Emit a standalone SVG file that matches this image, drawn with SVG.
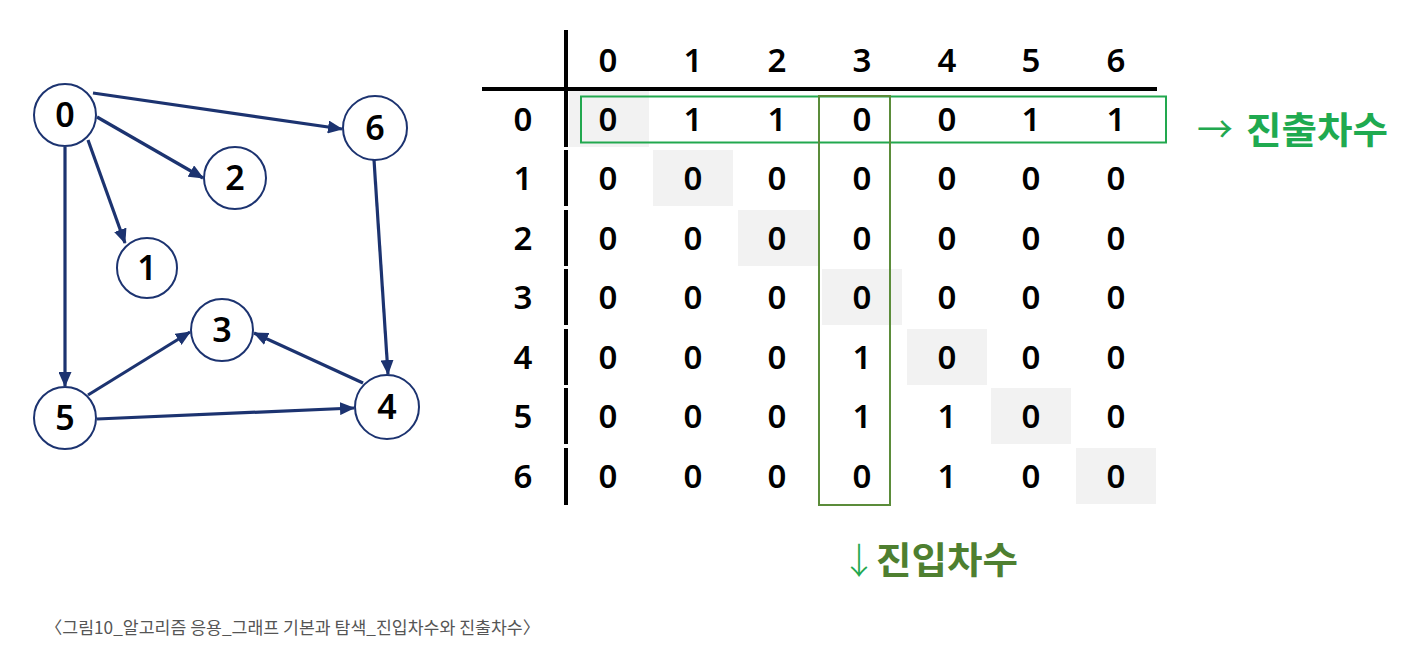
<svg xmlns="http://www.w3.org/2000/svg" width="1414" height="652" viewBox="0 0 1414 652">
<style>
.edge{stroke:#1c3370;stroke-width:3.2;fill:none;marker-end:url(#ah)}
.node circle{fill:#fff;stroke:#1c3370;stroke-width:2}
.nt{font-family:"Noto Sans","DejaVu Sans",sans-serif;font-size:34px;font-weight:600;fill:#000;text-anchor:middle}
.tt{font-family:"Noto Sans","DejaVu Sans",sans-serif;font-size:33px;font-weight:600;fill:#000;text-anchor:middle}
.gray{fill:#f2f2f2}
.bar{fill:#000}
.kr{font-family:"Noto Sans CJK KR",sans-serif;font-weight:700}
</style>
<defs>
<marker id="ah" markerUnits="userSpaceOnUse" markerWidth="15" markerHeight="13" refX="14" refY="6.5" orient="auto">
<path d="M0,0 L15,6.5 L0,13 z" fill="#1c3370"/>
</marker>
</defs>
<rect width="1414" height="652" fill="#fff"/>

<g id="connectors">
<line class="edge" x1="93" y1="93" x2="342" y2="129"/>
<line class="edge" x1="97" y1="117" x2="203" y2="178"/>
<line class="edge" x1="88" y1="140" x2="125" y2="243"/>
<line class="edge" x1="65" y1="147" x2="65" y2="386"/>
<line class="edge" x1="374" y1="160" x2="388" y2="374"/>
<line class="edge" x1="88" y1="395" x2="190" y2="332"/>
<line class="edge" x1="363" y1="383" x2="254" y2="333"/>
<line class="edge" x1="97" y1="419" x2="354" y2="408"/>
</g>

<g id="node0" class="node"><circle cx="65" cy="115" r="31"/><text class="nt" x="65" y="127">0</text></g>
<g id="node6" class="node"><circle cx="375" cy="128" r="32"/><text class="nt" x="375" y="140">6</text></g>
<g id="node2" class="node"><circle cx="235" cy="178" r="31"/><text class="nt" x="235" y="190">2</text></g>
<g id="node1" class="node"><circle cx="147" cy="268" r="30"/><text class="nt" x="147" y="280">1</text></g>
<g id="node3" class="node"><circle cx="222" cy="330" r="31"/><text class="nt" x="222" y="342">3</text></g>
<g id="node5" class="node"><circle cx="65" cy="418" r="31"/><text class="nt" x="65" y="430">5</text></g>
<g id="node4" class="node"><circle cx="387" cy="407" r="32"/><text class="nt" x="387" y="419">4</text></g>

<g id="matrix">
<rect class="gray" x="569" y="91" width="80" height="56"/>
<rect class="gray" x="653" y="150" width="80" height="56"/>
<rect class="gray" x="738" y="210" width="80" height="56"/>
<rect class="gray" x="822" y="269" width="80" height="56"/>
<rect class="gray" x="907" y="329" width="80" height="56"/>
<rect class="gray" x="991" y="388" width="80" height="56"/>
<rect class="gray" x="1076" y="448" width="80" height="56"/>

<rect class="bar" x="482" y="87" width="675" height="4"/>
<rect class="bar" x="564" y="30" width="4" height="117"/>
<rect class="bar" x="564" y="150" width="4" height="56"/>
<rect class="bar" x="564" y="210" width="4" height="56"/>
<rect class="bar" x="564" y="269" width="4" height="56"/>
<rect class="bar" x="564" y="329" width="4" height="56"/>
<rect class="bar" x="564" y="388" width="4" height="56"/>
<rect class="bar" x="564" y="448" width="4" height="57"/>

<g class="tt">
<text x="608" y="72">0</text><text x="693" y="72">1</text><text x="777" y="72">2</text><text x="862" y="72">3</text><text x="947" y="72">4</text><text x="1031" y="72">5</text><text x="1116" y="72">6</text>
<text x="523" y="131">0</text><text x="523" y="190">1</text><text x="523" y="250">2</text><text x="523" y="309">3</text><text x="523" y="369">4</text><text x="523" y="428">5</text><text x="523" y="488">6</text>
</g>
<g class="tt">
<text x="608" y="131">0</text><text x="693" y="131">1</text><text x="777" y="131">1</text><text x="862" y="131">0</text><text x="947" y="131">0</text><text x="1031" y="131">1</text><text x="1116" y="131">1</text>
<text x="608" y="190">0</text><text x="693" y="190">0</text><text x="777" y="190">0</text><text x="862" y="190">0</text><text x="947" y="190">0</text><text x="1031" y="190">0</text><text x="1116" y="190">0</text>
<text x="608" y="250">0</text><text x="693" y="250">0</text><text x="777" y="250">0</text><text x="862" y="250">0</text><text x="947" y="250">0</text><text x="1031" y="250">0</text><text x="1116" y="250">0</text>
<text x="608" y="309">0</text><text x="693" y="309">0</text><text x="777" y="309">0</text><text x="862" y="309">0</text><text x="947" y="309">0</text><text x="1031" y="309">0</text><text x="1116" y="309">0</text>
<text x="608" y="369">0</text><text x="693" y="369">0</text><text x="777" y="369">0</text><text x="862" y="369">1</text><text x="947" y="369">0</text><text x="1031" y="369">0</text><text x="1116" y="369">0</text>
<text x="608" y="428">0</text><text x="693" y="428">0</text><text x="777" y="428">0</text><text x="862" y="428">1</text><text x="947" y="428">1</text><text x="1031" y="428">0</text><text x="1116" y="428">0</text>
<text x="608" y="488">0</text><text x="693" y="488">0</text><text x="777" y="488">0</text><text x="862" y="488">0</text><text x="947" y="488">1</text><text x="1031" y="488">0</text><text x="1116" y="488">0</text>
</g>

<rect x="581" y="96.5" width="585" height="46" fill="none" stroke="#22a84f" stroke-width="2"/>
<rect x="819" y="96" width="71" height="409" fill="none" stroke="#5b8c3a" stroke-width="2"/>
</g>

<g id="label-out">
<text x="1197" y="143" font-family="Noto Sans CJK KR, sans-serif" font-size="36" fill="#22a84f">→</text>
<text class="kr" x="1246" y="144" font-size="37" fill="#1faa50" textLength="142" lengthAdjust="spacingAndGlyphs">진출차수</text>
</g>
<g id="label-in">
<text x="841" y="574" font-family="Noto Sans CJK KR, sans-serif" font-size="36" font-weight="300" fill="#22a84f">↓</text>
<text class="kr" x="876" y="574" font-size="37" fill="#4e7f30" textLength="142" lengthAdjust="spacingAndGlyphs">진입차수</text>
</g>
<text x="45" y="634" font-family="Noto Sans CJK KR, sans-serif" font-size="17" fill="#555" textLength="495" lengthAdjust="spacingAndGlyphs">〈그림10_알고리즘 응용_그래프 기본과 탐색_진입차수와 진출차수〉</text>
</svg>
